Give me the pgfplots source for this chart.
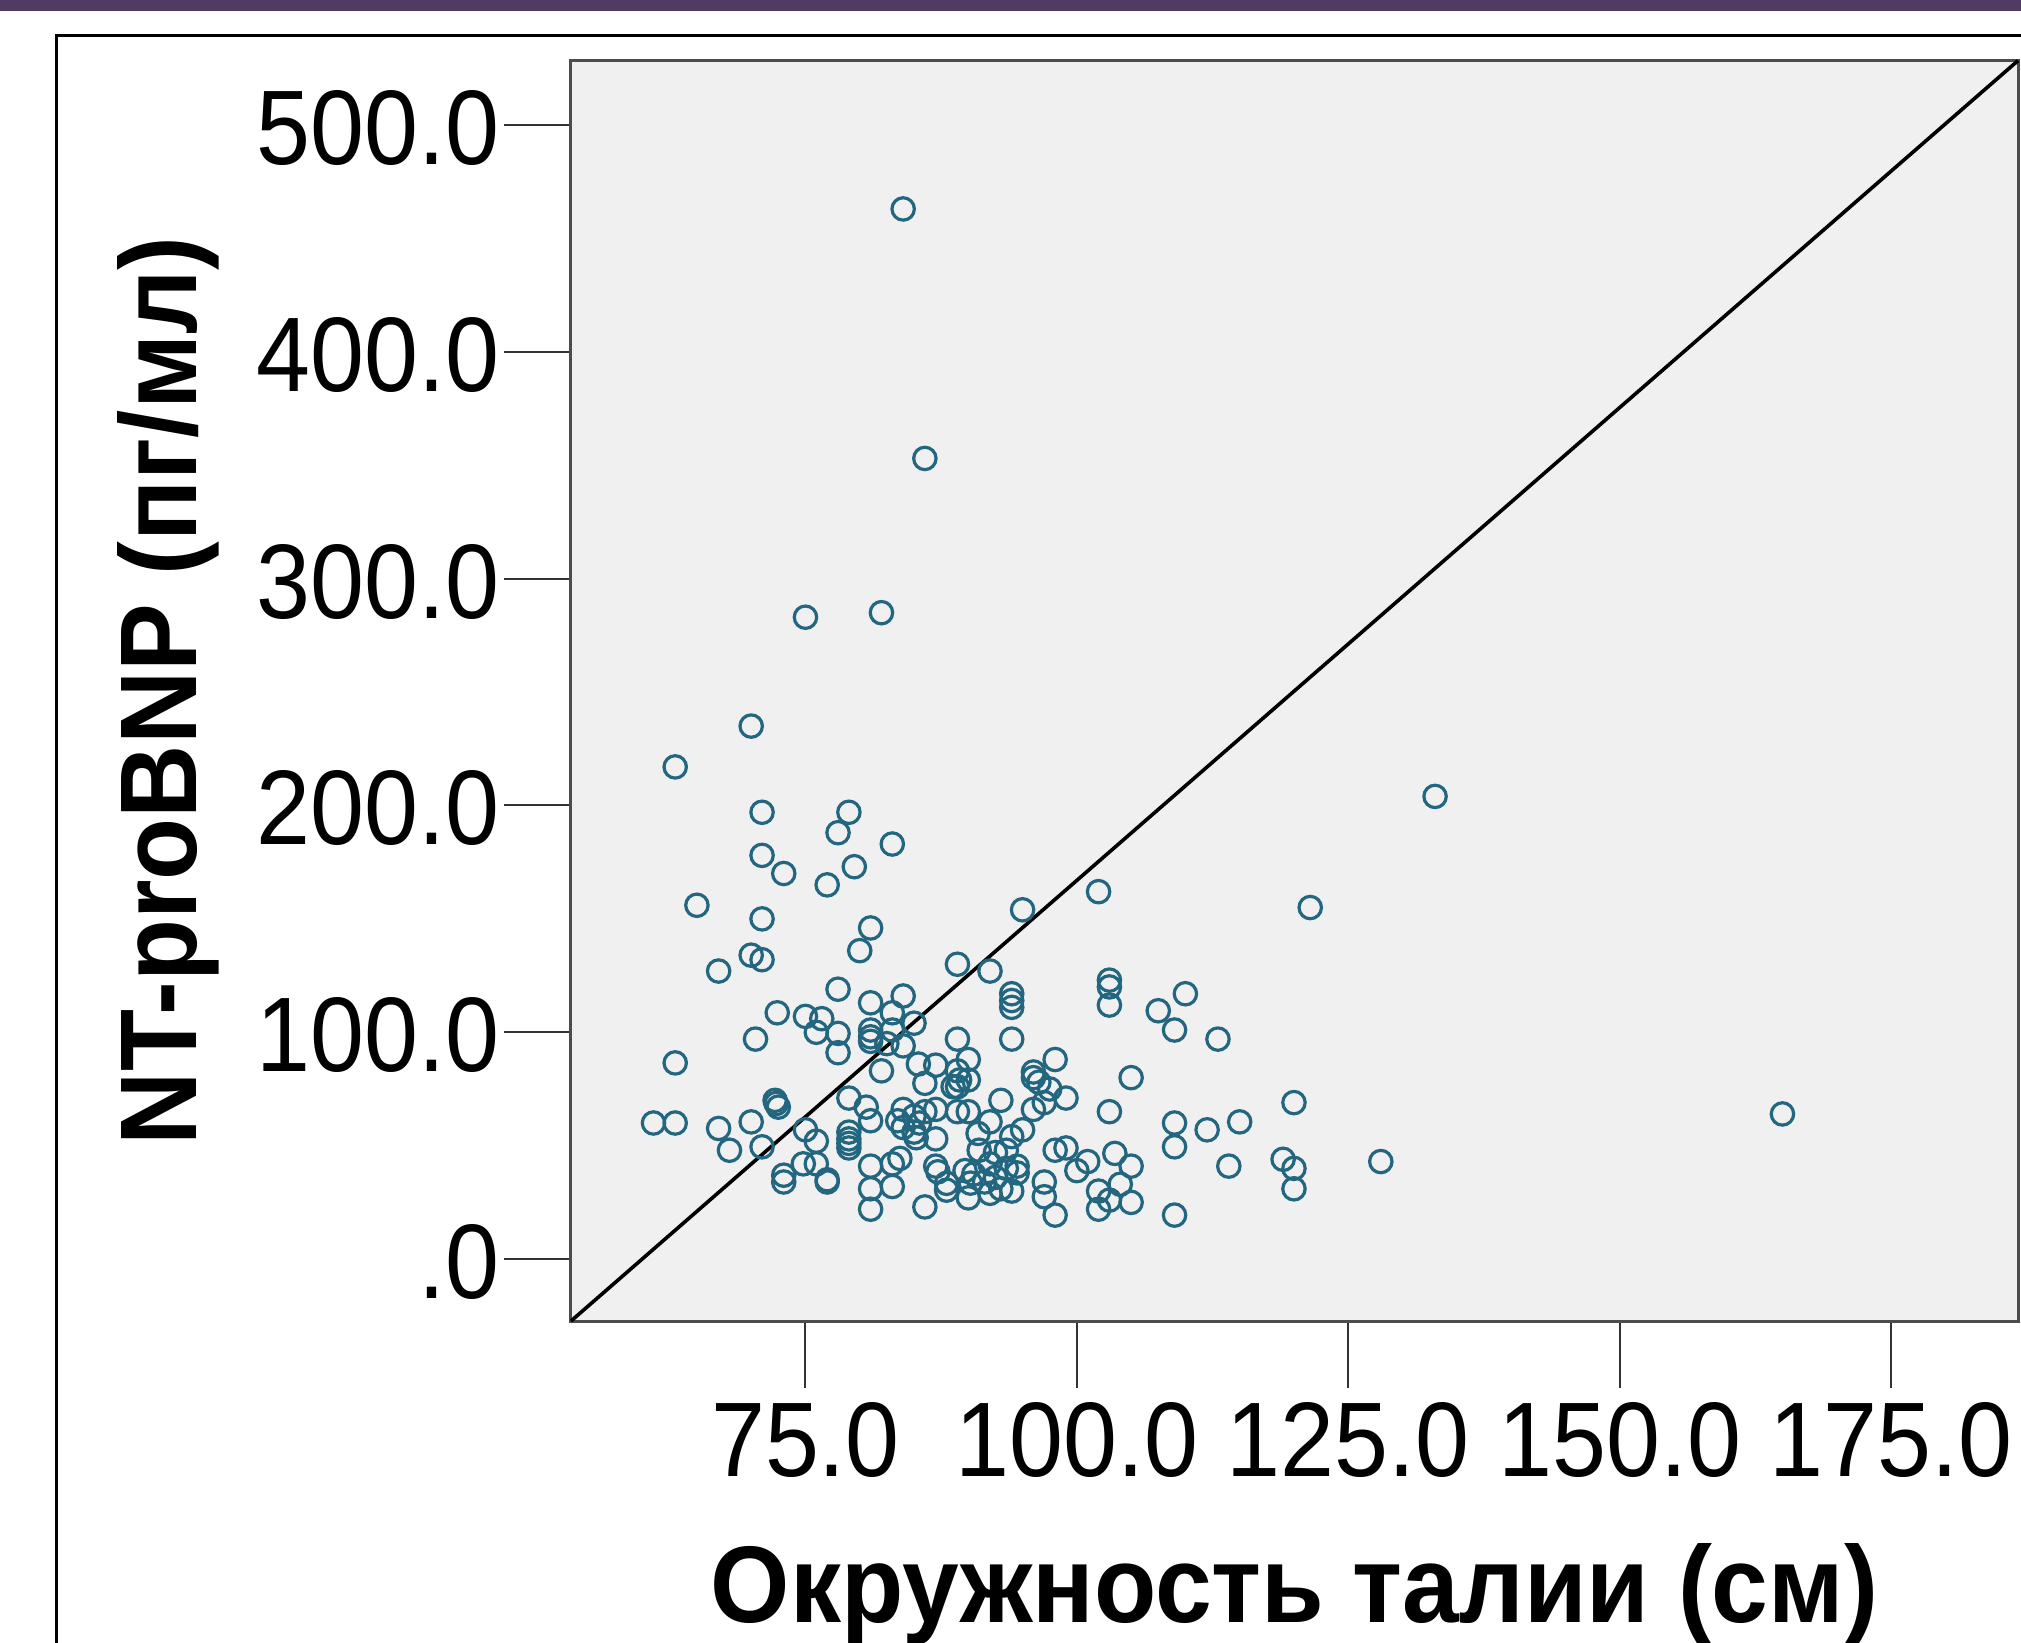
\documentclass[border=0pt]{standalone}
\usepackage{fontspec}
\setmainfont{Liberation Sans}
\usepackage{graphicx}
\usepackage{pgfplots}
\pgfplotsset{compat=1.18}
\definecolor{band}{RGB}{82,59,99}
\definecolor{ptc}{RGB}{35,102,128}
\definecolor{bg}{RGB}{240,240,240}
\newcommand\tl[1]{\scalebox{0.97}[1.06]{#1}}
\begin{document}
\begin{tikzpicture}
\useasboundingbox (-142.75pt,-80.25pt) rectangle (362.5pt,330.25pt);
\clip (-142.75pt,-80.25pt) rectangle (362.5pt,330.25pt);
\fill[band] (-142.75pt,327.5pt) rectangle (362.5pt,330.25pt);
\draw[black, line width=0.75pt] (-128.5pt,-100pt) -- (-128.5pt,321.25pt) -- (400pt,321.25pt);
\begin{axis}[
 at={(0,0)}, anchor=south west, scale only axis,
 width=361.75pt, height=315.1pt,
 xmin=53.4, xmax=186.7, ymin=-27.3, ymax=528.4,
 axis background/.style={fill=bg},
 axis line style={draw=black!70, line width=0.75pt},
 xtick={75,100,125,150,175}, xticklabels={\tl{75.0},\tl{100.0},\tl{125.0},\tl{150.0},\tl{175.0}},
 ytick={0,100,200,300,400,500}, yticklabels={\tl{.0},\tl{100.0},\tl{200.0},\tl{300.0},\tl{400.0},\tl{500.0}},
 xtick pos=left, ytick pos=left,
 tick align=outside, major tick length=16.75pt,
 tick style={draw=black!80, line width=0.5pt},
 minor tick num=0,
 tick label style={font=\fontsize{25}{30}\selectfont, inner sep=0pt},
 yticklabel style={anchor=east, xshift=-1pt, yshift=-0.75pt},
 xticklabel style={anchor=north, yshift=-3.5pt},
 xlabel={\scalebox{1.02}[1.09]{Окружность талии (см)}},
 ylabel={\scalebox{1.015}[1.09]{NT-proBNP (пг/мл)}},
 label style={font=\fontsize{25}{30}\selectfont\bfseries, inner sep=0pt},
 xlabel style={at={(axis description cs:0.5,-0.23881)}, anchor=base},
 ylabel style={at={(axis description cs:-0.25847,0.5)}, anchor=base},
 clip=false,
]
\addplot[only marks, mark=o, mark size=2.8pt, mark options={draw=ptc, line width=0.8pt}] table {
x y
84.0 463
86.0 353
75.0 283
82.0 285
70.0 235
63.0 217
133.0 204
71.0 197
79.0 197
78.0 188
83.0 183
71.0 178
73.0 170
79.5 173
77.0 165
102.0 162
65.0 156
95.0 154
121.5 155
71.0 150
81.0 146
80.0 136
70.0 134
71.0 132
67.0 127
89.0 130
92.0 127
103.0 123
103.0 120
103.0 112
94.0 117
94.0 114
94.0 111
78.0 119
81.0 113
84.0 116
110.0 117
107.5 109.5
109.0 101
113.0 97
72.4 108.6
75.0 107
76.5 106
76.0 100
78.0 99.5
83.0 108.6
81.0 101
81.0 98
81.0 96
83.0 101
85.0 104
70.4 97
78.0 91
82.5 95
84.0 94
82.0 83
89.0 97
94.0 97
63.0 86.5
85.4 86
87.0 85.5
90.0 88
89.0 83
89.2 79
89.0 76
86.0 77.5
90.0 79
88.6 76
98.0 88
96.0 82.5
96.0 80
96.5 78
105.0 80
97.5 75
99.0 71
97.0 69
96.0 66
93.0 70
103.0 65
120.0 69
109.0 60
109.0 49.5
112.0 57
115.0 60.5
114.0 41
119.0 44
120.0 40
120.0 31
128.0 43
165.0 64
72.3 68.6
72.5 67
72.2 70
61.0 60
63.0 60
67.0 57.6
70.0 60.5
68.0 48
71.0 49.5
79.0 71
80.6 67
81.0 61
84.0 66
85.0 63
85.5 60
85.0 56
84.0 58
85.2 53.5
83.5 61
86.0 65
87.0 66
87.0 53
90.0 65
89.0 65
90.9 55.4
92.0 60.5
79.0 56
79.0 53
79.0 51
79.0 49
75.0 57
76.0 52
74.8 42
76.0 42
73.0 37
73.0 34
77.0 34
77.0 35
81.0 41
83.0 42
83.7 44.4
81.0 31
83.0 32
81.0 22
86.0 23
87.0 41
87.2 38.5
88.0 33.4
88.0 30.4
89.7 39
90.5 37.5
90.2 33.5
90.0 27
95.0 57
94.0 54
98.0 48
99.0 49
101.0 43
100.0 39
103.5 46.6
105.0 41
104.0 33
102.0 30
103.0 26
102.0 22
105.0 25
97.0 34
97.0 27.5
98.0 19.4
109.0 19.4
91.0 48
92.5 47
93.5 48
92.0 42
93.5 40
94.5 41
91.5 34
92.5 36
93.0 31
94.0 30
92.0 29
94.5 38
};
\draw[black, line width=0.9pt] (rel axis cs:0,0) -- (rel axis cs:1,1);
\end{axis}
\end{tikzpicture}
\end{document}
